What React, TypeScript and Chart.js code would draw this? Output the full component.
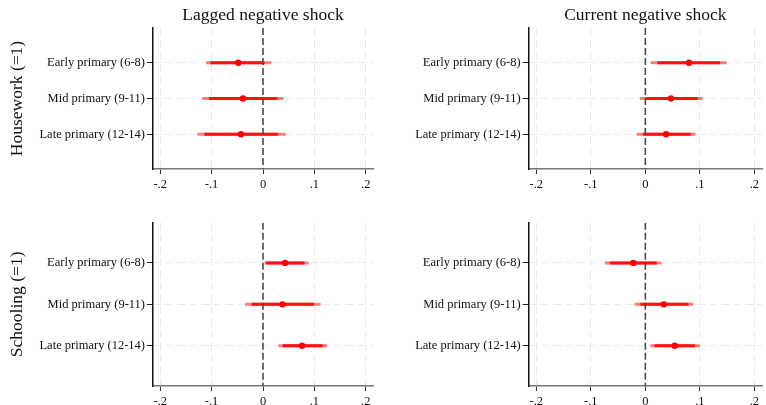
import React, { useEffect, useRef } from "react";
import { Chart, registerables } from "chart.js";

Chart.register(...registerables);

const FONT = "'Liberation Serif', 'Times New Roman', serif";

const rowLabels = ["Early primary (6-8)", "Mid primary (9-11)", "Late primary (12-14)"];
const rowPositions = [1, 2, 3];
const xTickValues = [-0.2, -0.1, 0, 0.1, 0.2];
const xTickLabels = ["-.2", "-.1", "0", ".1", ".2"];
const refLineX = 0;

// Housework (=1), lagged negative shock
const hwLagCoef = [-0.048, -0.039, -0.043];
const hwLagLo90 = [-0.102, -0.105, -0.114];
const hwLagHi90 = [0.003, 0.027, 0.029];
const hwLagLo95 = [-0.111, -0.118, -0.128];
const hwLagHi95 = [0.016, 0.04, 0.044];

// Housework (=1), current negative shock
const hwCurCoef = [0.08, 0.047, 0.038];
const hwCurLo90 = [0.022, 0.001, -0.004];
const hwCurHi90 = [0.137, 0.096, 0.083];
const hwCurLo95 = [0.01, -0.01, -0.016];
const hwCurHi95 = [0.149, 0.105, 0.092];

// Schooling (=1), lagged negative shock
const scLagCoef = [0.043, 0.038, 0.076];
const scLagLo90 = [0.006, -0.022, 0.038];
const scLagHi90 = [0.081, 0.099, 0.116];
const scLagLo95 = [0.003, -0.035, 0.03];
const scLagHi95 = [0.089, 0.112, 0.125];

// Schooling (=1), current negative shock
const scCurCoef = [-0.022, 0.034, 0.054];
const scCurLo90 = [-0.065, -0.009, 0.017];
const scCurHi90 = [0.021, 0.079, 0.091];
const scCurLo95 = [-0.074, -0.02, 0.009];
const scCurHi95 = [0.03, 0.088, 0.1];

const X_MIN = -0.214;
const X_MAX = 0.214;
const Y_MIN = 0.03;
const Y_MAX = 3.97;

type PanelCfg = {
  left: number;
  top: number;
  width: number;
  height: number;
  title?: string;
  yTitle?: string;
  coef: number[];
  lo90: number[];
  hi90: number[];
  lo95: number[];
  hi95: number[];
  padTop: number;
  padRight: number;
  yAxisWidth: number;
  xAxisHeight: number;
};

function segments(lo: number[], hi: number[]) {
  const pts: any[] = [];
  rowPositions.forEach((y, i) => {
    pts.push({ x: lo[i], y }, { x: hi[i], y }, { x: null, y: null });
  });
  return pts;
}

function Panel({ cfg }: { cfg: PanelCfg }) {
  const ref = useRef<HTMLCanvasElement | null>(null);
  useEffect(() => {
    if (!ref.current) return;
    const chart = new Chart(ref.current, {
      type: "scatter",
      data: {
        datasets: [
          {
            data: [
              { x: refLineX, y: Y_MIN },
              { x: refLineX, y: Y_MAX },
            ],
            showLine: true,
            borderColor: "#4a4a4a",
            borderWidth: 1.6,
            borderDash: [7, 3],
            pointRadius: 0,
            order: -1,
          } as any,
          {
            data: rowPositions.map((y, i) => ({ x: cfg.coef[i], y })),
            showLine: false,
            pointRadius: 3.2,
            pointBackgroundColor: "#ff0000",
            pointBorderWidth: 0,
            order: 0,
          },
          {
            data: segments(cfg.lo90, cfg.hi90),
            showLine: true,
            spanGaps: false,
            borderColor: "#ff1010",
            borderWidth: 3,
            borderCapStyle: "butt",
            pointRadius: 0,
            order: 1,
          } as any,
          {
            data: segments(cfg.lo95, cfg.hi95),
            showLine: true,
            spanGaps: false,
            borderColor: "rgba(255,0,0,0.5)",
            borderWidth: 3,
            borderCapStyle: "butt",
            pointRadius: 0,
            order: 2,
          } as any,
        ],
      },
      options: {
        animation: false,
        responsive: false,
        events: [],
        layout: { padding: { top: cfg.padTop, right: cfg.padRight, left: 0, bottom: 0 } },
        plugins: {
          legend: { display: false },
          tooltip: { enabled: false },
          title: cfg.title
            ? {
                display: true,
                text: cfg.title,
                fullSize: false,
                color: "#111",
                font: { family: FONT, size: 17.5, weight: "normal" },
                padding: { top: 5, bottom: 2 },
              }
            : { display: false },
        },
        scales: {
          x: {
            type: "linear",
            min: X_MIN,
            max: X_MAX,
            bounds: "data",
            afterBuildTicks: (s: any) => {
              s.ticks = xTickValues.map((v) => ({ value: v }));
            },
            afterFit: (s: any) => {
              s.height = cfg.xAxisHeight;
            },
            ticks: {
              autoSkip: false,
              maxRotation: 0,
              padding: 3,
              color: "#111",
              font: { family: FONT, size: 12.5 },
              callback: (_v: any, i: number) => xTickLabels[i],
            },
            grid: {
              color: (c: any) => (c.tick && c.tick.value === 0 ? "rgba(0,0,0,0)" : "#ebebeb"),
              lineWidth: 1,
              tickColor: "#333",
              tickLength: 5,
              tickWidth: 1,
              tickBorderDash: [],
            },
            border: { display: true, color: "#777", width: 1.5, dash: [8, 4] },
          },
          y: {
            type: "linear",
            reverse: true,
            min: Y_MIN,
            max: Y_MAX,
            bounds: "data",
            afterBuildTicks: (s: any) => {
              s.ticks = rowPositions.map((v) => ({ value: v }));
            },
            afterFit: (s: any) => {
              s.width = cfg.yAxisWidth;
            },
            ticks: {
              autoSkip: false,
              padding: 2,
              color: "#111",
              font: { family: FONT, size: 12.5 },
              callback: (_v: any, i: number) => rowLabels[i],
            },
            grid: {
              color: "#ebebeb",
              lineWidth: 1,
              tickColor: "#222",
              tickLength: 6,
              tickWidth: 1,
              tickBorderDash: [],
            },
            border: { display: true, color: "#111", width: 1.5, dash: [8, 4] },
            title: cfg.yTitle
              ? {
                  display: true,
                  text: cfg.yTitle,
                  color: "#111",
                  font: { family: FONT, size: 17.5 },
                  padding: { top: 7, bottom: 0 },
                }
              : { display: false },
          },
        },
      } as any,
    });
    return () => chart.destroy();
  }, [cfg]);
  return (
    <canvas
      ref={ref}
      width={cfg.width}
      height={cfg.height}
      style={{ position: "absolute", left: cfg.left, top: cfg.top, width: cfg.width, height: cfg.height }}
    />
  );
}

const panels: PanelCfg[] = [
  {
    left: 0, top: 0, width: 383, height: 200,
    title: "Lagged negative shock", yTitle: "Housework (=1)",
    coef: hwLagCoef, lo90: hwLagLo90, hi90: hwLagHi90, lo95: hwLagLo95, hi95: hwLagHi95,
    padTop: 0, padRight: 10, yAxisWidth: 153, xAxisHeight: 31,
  },
  {
    left: 383, top: 0, width: 383, height: 200,
    title: "Current negative shock",
    coef: hwCurCoef, lo90: hwCurLo90, hi90: hwCurHi90, lo95: hwCurLo95, hi95: hwCurHi95,
    padTop: 0, padRight: 0, yAxisWidth: 145.7, xAxisHeight: 31,
  },
  {
    left: 0, top: 200, width: 383, height: 205,
    yTitle: "Schooling (=1)",
    coef: scLagCoef, lo90: scLagLo90, hi90: scLagHi90, lo95: scLagLo95, hi95: scLagHi95,
    padTop: 22.7, padRight: 10, yAxisWidth: 153, xAxisHeight: 19,
  },
  {
    left: 383, top: 200, width: 383, height: 205,
    coef: scCurCoef, lo90: scCurLo90, hi90: scCurHi90, lo95: scCurLo95, hi95: scCurHi95,
    padTop: 22.7, padRight: 0, yAxisWidth: 145.7, xAxisHeight: 19,
  },
];

export default function App() {
  return (
    <div style={{ position: "absolute", left: 0, top: 0, width: 766, height: 405, background: "#fff", overflow: "hidden" }}>
      {panels.map((p, i) => (
        <Panel key={i} cfg={p} />
      ))}
    </div>
  );
}
